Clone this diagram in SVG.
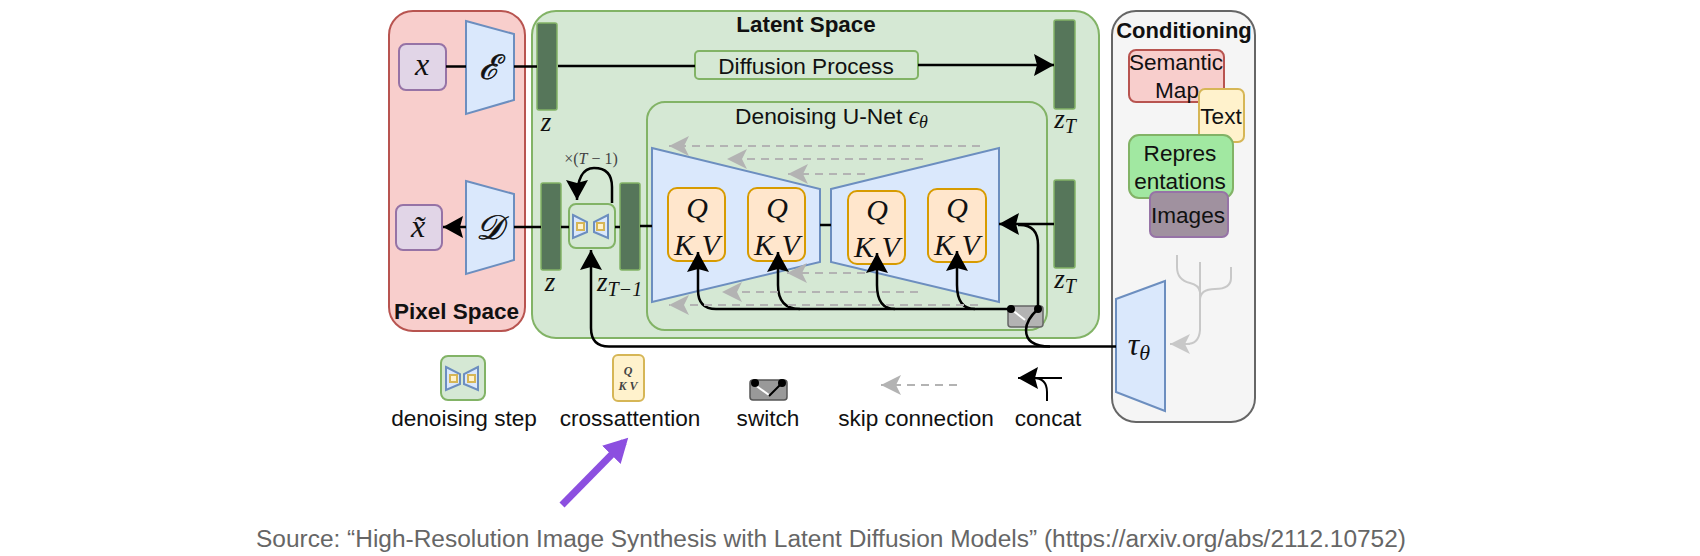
<svg xmlns="http://www.w3.org/2000/svg" width="1700" height="556" viewBox="0 0 1700 556">
<style>
text{font-family:"Liberation Sans",Arial,sans-serif;fill:#111;text-anchor:middle}
.b{font-weight:bold}
.m{font-family:"Liberation Serif","Times New Roman",serif;font-style:italic}
.l{font-size:22.600px}
.n{font-size:22.600px}
.t{fill:#dae8fc;stroke:#6c8ebf;stroke-width:2}
.q{fill:#ffe6cc;stroke:#d79b00;stroke-width:2}
.g{fill:#d5e8d4;stroke:#82b366;stroke-width:2}
.bar{fill:#56765a;stroke:#82b366;stroke-width:1.5}
.p{fill:#e1d5e7;stroke:#9673a6;stroke-width:2}
.c{fill:none;stroke:#000;stroke-width:2.500}
.sk{fill:none;stroke:#b3b3b3;stroke-width:2;stroke-dasharray:8 6}
.tr{fill:none;stroke:#c8c8c8;stroke-width:2}
</style>
<defs>
<marker id="a" markerUnits="userSpaceOnUse" markerWidth="24" markerHeight="24" refX="20" refY="11" orient="auto"><path d="M0 0L20 11L0 22L3 11Z" fill="#000"/></marker>
<marker id="sa" markerUnits="userSpaceOnUse" markerWidth="24" markerHeight="24" refX="20" refY="10" orient="auto"><path d="M0 0L20 10L0 20L5 10Z" fill="#b3b3b3"/></marker>
<marker id="ta" markerUnits="userSpaceOnUse" markerWidth="24" markerHeight="24" refX="20" refY="10" orient="auto"><path d="M0 0L20 10L0 20L5 10Z" fill="#c8c8c8"/></marker>
<marker id="pa" markerUnits="userSpaceOnUse" markerWidth="30" markerHeight="30" refX="18" refY="13" orient="auto"><path d="M0 0L24 13L0 26Z" fill="#8c4fe0"/></marker>
</defs>
<rect width="1700" height="556" fill="#fff"/>
<g id="pixel-space"><rect x="389" y="11" width="136" height="320" rx="24" fill="#f8cecc" stroke="#b85450" stroke-width="2"/><text class="b" x="456.500" y="319" font-size="22.500">Pixel Space</text></g>
<g id="latent-space"><rect x="532" y="11" width="567" height="327" rx="24" class="g"/><text class="b" x="806" y="32" font-size="22.400">Latent Space</text></g>
<g id="conditioning"><rect x="1112" y="11" width="143" height="411" rx="24" fill="#f5f5f5" stroke="#666" stroke-width="2"/><text class="b" x="1184" y="38" font-size="22">Conditioning</text></g>
<g id="unet"><rect x="647" y="102" width="400" height="228" rx="18" class="g"/><text x="735" y="124" font-size="22.800" style="text-anchor:start">Denoising U-Net <tspan class="m" font-size="26">ϵ</tspan><tspan class="m" font-size="18" dy="4">θ</tspan></text></g>
<g id="x"><rect x="399" y="44" width="47" height="46" rx="7" class="p"/><text class="m" x="422" y="75" font-size="32">x</text></g>
<g id="encoder"><path d="M466 21L514 34V100L466 114Z" class="t"/><text class="m" x="489" y="79" font-size="34" stroke="#111" stroke-width=".6" style="font-family:'DejaVu Serif','Liberation Serif',serif">ℰ</text></g>
<g id="z1"><rect x="537" y="23" width="20" height="87" rx="2" class="bar"/><text class="m" x="546" y="131" font-size="27">z</text></g>
<g id="diffusion"><rect x="695" y="51" width="223" height="28" rx="4" class="g"/><text class="n" x="806" y="74">Diffusion Process</text></g>
<g id="zT1"><rect x="1054" y="20" width="21" height="89" rx="2" class="bar"/><text class="m" x="1065" y="128" font-size="27">z<tspan font-size="20" dy="5">T</tspan></text></g>
<g id="x-tilde"><rect x="396" y="205" width="46" height="45" rx="7" class="p"/><text class="m" x="418" y="237" font-size="32">x̃</text></g>
<g id="decoder"><path d="M466 181L514 194V260L466 274Z" class="t"/><text class="m" x="489" y="239" font-size="34" stroke="#111" stroke-width=".6" style="font-family:'DejaVu Serif','Liberation Serif',serif">𝒟</text></g>
<g id="z2"><rect x="541" y="183" width="20" height="87" rx="2" class="bar"/><text class="m" x="550" y="291" font-size="27">z</text></g>
<g id="denoising-step"><rect x="569" y="204" width="46" height="44" rx="7" class="g"/><path d="M573 215L587 222V232L573 238Z" class="t" stroke-width="1.500"/><path d="M608 215L594 222V232L608 238Z" class="t" stroke-width="1.500"/><rect x="577" y="223" width="7" height="7" fill="#fff2cc" stroke="#d6b656" stroke-width="2"/><rect x="597" y="223" width="7" height="7" fill="#fff2cc" stroke="#d6b656" stroke-width="2"/><text x="591" y="164" class="m" font-size="16" style="font-style:normal;fill:#444">×(<tspan font-style="italic">T</tspan> − 1)</text></g>
<g id="zT-1"><rect x="620" y="183" width="20" height="87" rx="2" class="bar"/><text class="m" x="597" y="291" font-size="27" style="text-anchor:start">z<tspan font-size="20" dy="5">T−1</tspan></text></g>
<g id="unet-left"><path d="M652 148L820 189V262L652 302Z" class="t"/></g>
<g id="unet-right"><path d="M831 189L999 148V302L831 262Z" class="t"/></g>
<g id="qkv1"><rect x="668" y="188" width="57" height="73" rx="9" class="q"/><text class="m" x="697" y="218" font-size="30">Q</text><text class="m" x="697" y="255" font-size="30">K V</text></g>
<g id="qkv2"><rect x="748" y="188" width="57" height="73" rx="9" class="q"/><text class="m" x="777" y="218" font-size="30">Q</text><text class="m" x="777" y="255" font-size="30">K V</text></g>
<g id="qkv3"><rect x="848" y="191" width="57" height="73" rx="9" class="q"/><text class="m" x="877" y="220" font-size="30">Q</text><text class="m" x="877" y="257" font-size="30">K V</text></g>
<g id="qkv4"><rect x="928" y="189" width="58" height="73" rx="9" class="q"/><text class="m" x="957" y="218" font-size="30">Q</text><text class="m" x="957" y="255" font-size="30">K V</text></g>
<g id="zT2"><rect x="1054" y="180" width="21" height="88" rx="2" class="bar"/><text class="m" x="1065" y="288" font-size="27">z<tspan font-size="20" dy="5">T</tspan></text></g>
<g id="switch"><rect x="1008" y="306" width="35" height="21" rx="3" fill="#b3b3b3" stroke="#666" stroke-width="1.500"/><path d="M1011 309L1025 320" stroke="#fff" stroke-width="2" fill="none"/></g>
<g id="semantic-map"><rect x="1129" y="50" width="95" height="52" rx="7" fill="#f8cecc" stroke="#b85450" stroke-width="2"/><text class="n" x="1176" y="70">Semantic</text><text class="n" x="1177" y="98">Map</text></g>
<g id="text"><rect x="1199" y="89" width="45" height="53" rx="6" fill="#fff2cc" stroke="#d6b656" stroke-width="2"/><text class="n" x="1221" y="124">Text</text></g>
<g id="representations"><rect x="1129" y="135" width="104" height="63" rx="10" fill="#a1e8a1" stroke="#82b366" stroke-width="2"/><text class="n" x="1180" y="161">Repres</text><text class="n" x="1180" y="189">entations</text></g>
<g id="images"><rect x="1150" y="192" width="78" height="45" rx="6" fill="#a0919f" stroke="#9673a6" stroke-width="2"/><text class="n" x="1188" y="223">Images</text></g>
<g id="tau"><path d="M1116 299L1165 281V411L1116 392Z" class="t"/><text class="m" x="1139" y="355" font-size="32">τ<tspan font-size="22" dy="5">θ</tspan></text></g>
<g id="legend-denoising"><rect x="441" y="356" width="44" height="44" rx="7" class="g"/><path d="M446 367L460 374V384L446 390Z" class="t" stroke-width="1.500"/><path d="M478 367L464 374V384L478 390Z" class="t" stroke-width="1.500"/><rect x="450" y="375" width="7" height="7" fill="#fff2cc" stroke="#d6b656" stroke-width="2"/><rect x="468" y="375" width="7" height="7" fill="#fff2cc" stroke="#d6b656" stroke-width="2"/><text class="l" x="464" y="426">denoising step</text></g>
<g id="legend-crossattention"><rect x="613" y="355" width="31" height="46" rx="5" fill="#fff2cc" stroke="#d6b656" stroke-width="2"/><text class="m b" x="628" y="375" font-size="12" style="fill:#444">Q</text><text class="m b" x="628" y="390" font-size="12" style="fill:#444">K V</text><text class="l" x="630" y="426">crossattention</text></g>
<g id="legend-switch"><rect x="750" y="380" width="37" height="20" rx="3" fill="#999" stroke="#555" stroke-width="1.500"/><path d="M755 385L769 395" stroke="#fff" stroke-width="2"/><path d="M769 396L782 383" stroke="#000" stroke-width="2"/><circle cx="755" cy="383" r="4"/><circle cx="782" cy="383" r="4"/><text class="l" x="768" y="426">switch</text></g>
<g id="legend-skip"><path class="sk" d="M957 385H881" marker-end="url(#sa)"/><text class="l" x="916" y="426">skip connection</text></g>
<g id="legend-concat"><path class="c" d="M1062 378H1018" marker-end="url(#a)" style="stroke-width:2"/><path class="c" d="M1047 401V392Q1047 378 1033 378" style="stroke-width:2"/><text class="l" x="1048" y="426">concat</text></g>
<g id="connectors">
<path class="c" d="M446 66.500H466M514 66.500H537M558 66H695"/>
<path class="c" d="M918 65H1054" marker-end="url(#a)"/>
<path class="c" d="M466 227H443" marker-end="url(#a)"/>
<path class="c" d="M514 227H541M561 227H569M615 227H620M640 226H652M820 225H831"/>
<path class="c" d="M612 203V187Q612 168 594 168Q577 168 577 200" marker-end="url(#a)"/>
<path class="c" d="M1116 346.500H609Q591 346.500 591 328V250" marker-end="url(#a)"/>
<path class="c" d="M1011 309H716Q698 309 698 290V252" marker-end="url(#a)"/>
<path class="c" d="M800 309Q778 309 778 285V252" marker-end="url(#a)"/>
<path class="c" d="M895 309Q877 309 877 285V253" marker-end="url(#a)"/>
<path class="c" d="M975 309Q957 309 957 285V251" marker-end="url(#a)"/>
<path class="c" d="M1054 224H999" marker-end="url(#a)"/>
<path class="c" d="M1018 225H1020Q1038 225 1038 245V309"/>
<path class="c" d="M1050 346.500Q1026 346.500 1026 330Q1026 320 1038 309"/>
<circle cx="1011" cy="309" r="4"/><circle cx="1038" cy="309" r="4"/>
<path class="sk" d="M980 146H669" marker-end="url(#sa)"/>
<path class="sk" d="M923 159H727" marker-end="url(#sa)"/>
<path class="sk" d="M865 174H788" marker-end="url(#sa)"/>
<path class="sk" d="M865 273H787" marker-end="url(#sa)"/>
<path class="sk" d="M918 292H722" marker-end="url(#sa)"/>
<path class="sk" d="M978 305H669" marker-end="url(#sa)"/>
<path class="tr" d="M1177 255V267Q1177 280 1190 283Q1199 285 1200 292M1200 262V330Q1199 345 1185 344H1171M1231 267V278Q1231 289 1215 289Q1200 289 1200 300" />
<path class="tr" d="M1190 344H1170" marker-end="url(#ta)"/>
<path d="M562 505L624 442" stroke="#8c4fe0" stroke-width="7" fill="none" marker-end="url(#pa)"/>
</g>
<text x="831" y="547" font-size="24.460" style="fill:#666">Source: “High-Resolution Image Synthesis with Latent Diffusion Models” (https://arxiv.org/abs/2112.10752)</text>
</svg>
